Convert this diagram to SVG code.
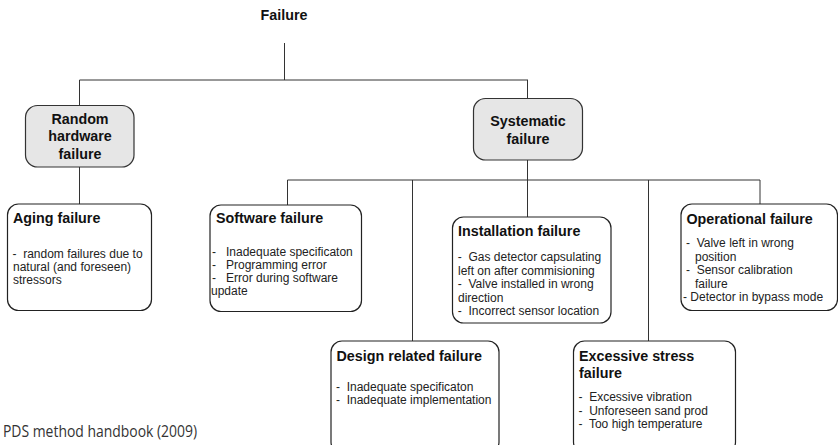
<svg xmlns="http://www.w3.org/2000/svg" width="838" height="445" viewBox="0 0 838 445">
<style>
.box{fill:#ffffff;stroke:#222222;stroke-width:1.2}
.gbox{fill:#e6e6e6;stroke:#333333;stroke-width:1.2}
.ln{stroke:#333333;stroke-width:1;fill:none}
.t{font-family:"Liberation Sans",Arial,sans-serif;font-weight:bold;font-size:14.3px;fill:#111111}
.c{text-anchor:middle}
.b{font-family:"Liberation Sans",Arial,sans-serif;font-size:12px;fill:#222222}
.src{font-family:"Open Sans","Noto Sans",sans-serif;font-size:16.5px;fill:#333333}
</style>
<rect width="838" height="445" fill="#ffffff"/>
<g id="connectors">
<line class="ln" x1="284.5" y1="43" x2="284.5" y2="80"/>
<line class="ln" x1="79.5" y1="80" x2="528" y2="80"/>
<line class="ln" x1="79.5" y1="80" x2="79.5" y2="105"/>
<line class="ln" x1="527.5" y1="80" x2="527.5" y2="99"/>
<line class="ln" x1="79.5" y1="167" x2="79.5" y2="204"/>
<line class="ln" x1="527.5" y1="160" x2="527.5" y2="217"/>
<line class="ln" x1="287.5" y1="180" x2="760" y2="180"/>
<line class="ln" x1="287.5" y1="180" x2="287.5" y2="205"/>
<line class="ln" x1="412.5" y1="180" x2="412.5" y2="341"/>
<line class="ln" x1="648.5" y1="180" x2="648.5" y2="341"/>
<line class="ln" x1="760" y1="180" x2="760" y2="204"/>
</g>
<g id="failure">
<text class="t c" x="284" y="20">Failure</text>
</g>
<g id="random">
<rect class="gbox" x="25.5" y="105.5" width="108.5" height="61.5" rx="12"/>
<text class="t c" x="80" y="123.5">Random</text>
<text class="t c" x="80" y="141">hardware</text>
<text class="t c" x="80" y="158.5">failure</text>
</g>
<g id="systematic">
<rect class="gbox" x="473.5" y="98.5" width="109" height="61.5" rx="12"/>
<text class="t c" x="528" y="126">Systematic</text>
<text class="t c" x="528" y="143.5">failure</text>
</g>
<g id="aging">
<rect class="box" x="7.5" y="204" width="144" height="106.5" rx="11"/>
<text class="t" x="13" y="223">Aging failure</text>
<text class="b" xml:space="preserve" x="12.5" y="258">-  random failures due to</text>
<text class="b" x="13" y="271">natural (and foreseen)</text>
<text class="b" x="13" y="284">stressors</text>
</g>
<g id="software">
<rect class="box" x="210" y="205" width="151.5" height="106.5" rx="11"/>
<text class="t" x="216" y="223">Software failure</text>
<text class="b" xml:space="preserve" x="212" y="255.5">-   Inadequate specificaton</text>
<text class="b" xml:space="preserve" x="212" y="268.5">-   Programming error</text>
<text class="b" xml:space="preserve" x="212" y="281.5">-   Error during software</text>
<text class="b" x="211" y="295">update</text>
</g>
<g id="installation">
<rect class="box" x="452.5" y="217" width="158.5" height="106" rx="11"/>
<text class="t" x="458" y="236">Installation failure</text>
<text class="b" xml:space="preserve" x="457.8" y="261">-  Gas detector capsulating</text>
<text class="b" x="458" y="274.5">left on after commisioning</text>
<text class="b" xml:space="preserve" x="457.8" y="288">-  Valve installed in wrong</text>
<text class="b" x="458" y="301.5">direction</text>
<text class="b" xml:space="preserve" x="457.8" y="315">-  Incorrect sensor location</text>
</g>
<g id="operational">
<rect class="box" x="681" y="204" width="156.5" height="106.5" rx="11"/>
<text class="t" x="686.5" y="224">Operational failure</text>
<text class="b" xml:space="preserve" x="686" y="247">-  Valve left in wrong</text>
<text class="b" x="695" y="260.5">position</text>
<text class="b" xml:space="preserve" x="686" y="274">-  Sensor calibration</text>
<text class="b" x="695" y="287.5">failure</text>
<text class="b" xml:space="preserve" x="683" y="301">- Detector in bypass mode</text>
</g>
<g id="design">
<rect class="box" x="331" y="341" width="168" height="112" rx="11"/>
<text class="t" x="336.5" y="361">Design related failure</text>
<text class="b" xml:space="preserve" x="336" y="391">-  Inadequate specificaton</text>
<text class="b" xml:space="preserve" x="336" y="404">-  Inadequate implementation</text>
</g>
<g id="excessive">
<rect class="box" x="573.5" y="341" width="162" height="112" rx="11"/>
<text class="t" x="579" y="361">Excessive stress</text>
<text class="t" x="579" y="377.5">failure</text>
<text class="b" xml:space="preserve" x="578.5" y="401">-  Excessive vibration</text>
<text class="b" xml:space="preserve" x="578.5" y="414.5">-  Unforeseen sand prod</text>
<text class="b" xml:space="preserve" x="578.5" y="428">-  Too high temperature</text>
</g>
<g id="source">
<text class="src" x="3" y="437" textLength="194" lengthAdjust="spacingAndGlyphs">PDS method handbook (2009)</text>
</g>
</svg>
